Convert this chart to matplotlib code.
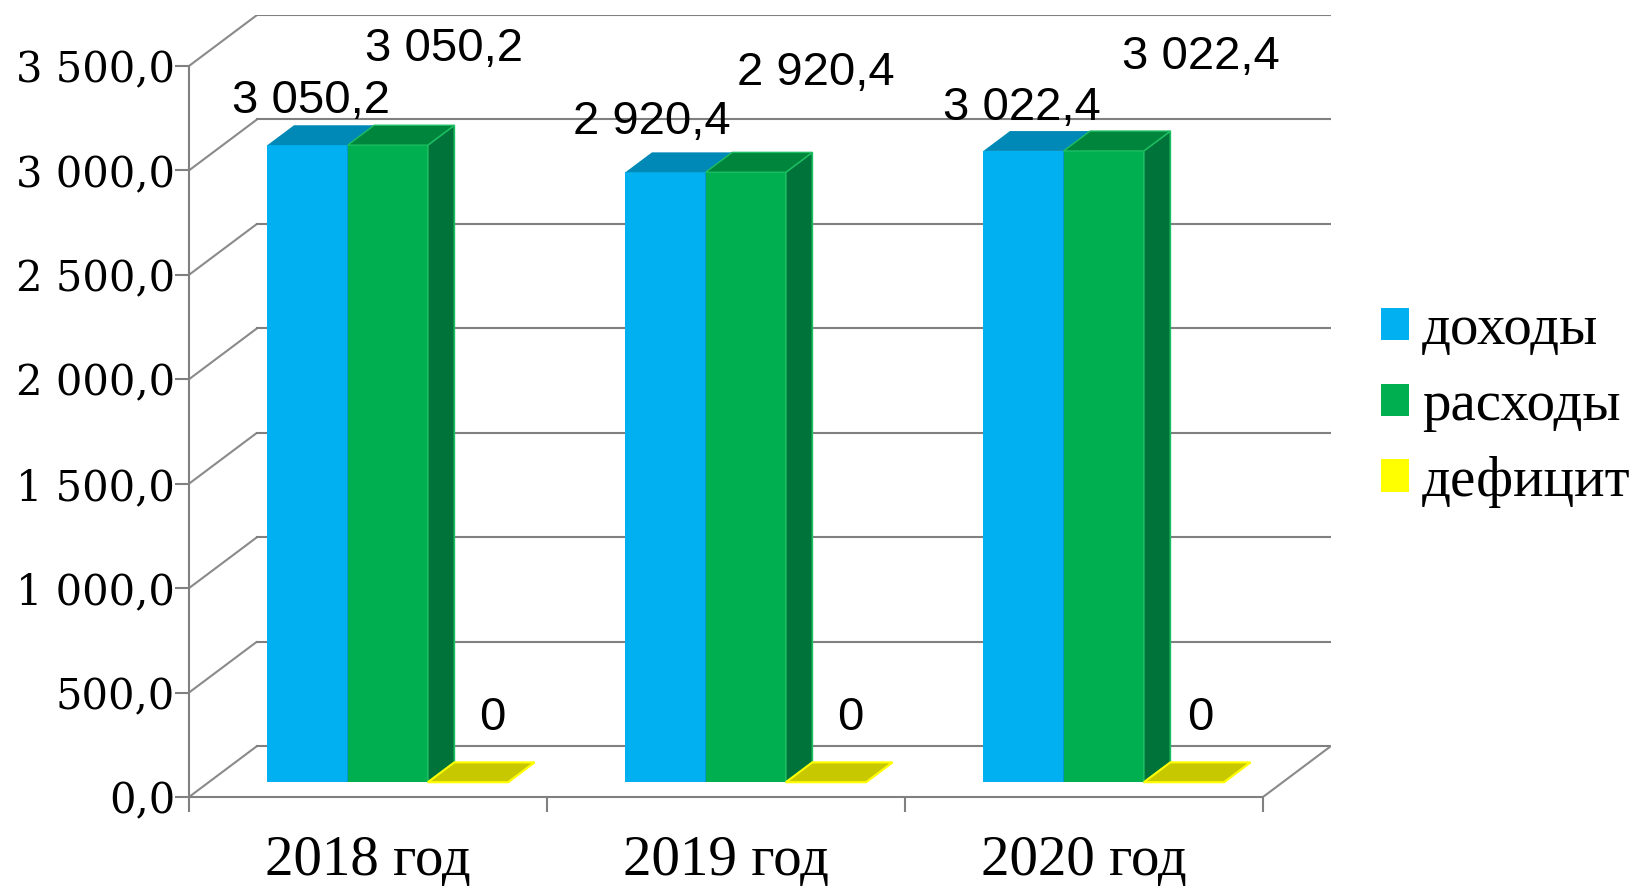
import matplotlib
matplotlib.use("Agg")
import matplotlib.pyplot as plt
from matplotlib.patches import Patch

# ---------------- data ----------------
categories = ["2018 год", "2019 год", "2020 год"]
series_names = ["доходы", "расходы", "дефицит"]
dohody = [3050.2, 2920.4, 3022.4]
rashody = [3050.2, 2920.4, 3022.4]
deficit = [0, 0, 0]
y_ticks = [0, 500, 1000, 1500, 2000, 2500, 3000, 3500]

# ---------------- style / layout ----------------
front_colors = ["#00B0F0", "#00B050", "#FFFF00"]
top_colors = ["#0088B6", "#00853D", "#C8C800"]
side_colors = ["#006E9A", "#00733A", "#A6A600"]
edge_colors = ["none", "#1DBE62", "#FFFF00"]
grid_color = "#808080"

# label offsets in pixels (dx, dy) from the top-front-centre of each bar
label_offsets = [
    [(3, 44), (-14, 50), (-2, 43)],
    [(56, 96), (70, 99), (97, 94)],
    [(24, 64), (24, 64), (16, 64)],
]

W_PX, H_PX = 1641, 888
DX, DY = 0.19, 244.0      # depth of the plot box (data units)
F0, FD = 0.29, 0.39       # bar front plane / bar depth as fraction of box depth
BW = 0.224                # bar width (category units)


def fmt_decimal(v):
    return f"{v:,.1f}".replace(",", " ").replace(".", ",")


def fmt_general(v):
    return f"{v:g}"


series = [dohody, rashody, deficit]
label_fmts = [fmt_decimal, fmt_decimal, fmt_general]

fig = plt.figure(figsize=(W_PX / 100, H_PX / 100), dpi=100)
ax = fig.add_axes([189 / W_PX, 91 / H_PX, (1331 - 189) / W_PX, (873 - 91) / H_PX])
ax.set_xlim(0, len(categories) + DX)
ax.set_ylim(0, y_ticks[-1] + DY)
ax.patch.set_alpha(0)

# spines / ticks
for s in ["top", "right"]:
    ax.spines[s].set_visible(False)
for s in ["left", "bottom"]:
    ax.spines[s].set_color(grid_color)
    ax.spines[s].set_linewidth(1.5)
ax.spines["left"].set_bounds(0, y_ticks[-1])
ax.spines["bottom"].set_bounds(0, len(categories))

ax.set_yticks(y_ticks, labels=[fmt_decimal(v) for v in y_ticks])
ax.tick_params(axis="y", length=10, width=1.5, color=grid_color, pad=0,
               labelsize=30, labelfontfamily="DejaVu Serif")
ax.set_xticks(range(len(categories) + 1), labels=[""] * (len(categories) + 1))
ax.set_xticks([i + 0.5 for i in range(len(categories))], labels=categories, minor=True)
ax.tick_params(axis="x", which="major", length=11, width=1.5, color=grid_color)
ax.tick_params(axis="x", which="minor", length=0, pad=27, labelsize=41,
               labelfontfamily="Liberation Serif")

# gridlines: side wall diagonals + back wall lines
for v in y_ticks:
    ax.plot([0, DX], [v, v + DY], color="#8a8a8a", lw=1.5, zorder=1, solid_capstyle="butt")
    ax.plot([DX, len(categories) + DX], [v + DY, v + DY], color=grid_color, lw=1.5, zorder=1)
# floor right edge
ax.plot([len(categories), len(categories) + DX], [0, DY], color="#8a8a8a", lw=1.5, zorder=1)

# bars
dx, dy = FD * DX, FD * DY
z = 2
for i in range(len(categories)):
    for j, vals in enumerate(series):
        v = vals[i]
        x0 = i + 0.5 - 1.5 * BW + j * BW + F0 * DX
        b = F0 * DY
        if v > 0:
            ax.bar(x0, v, width=BW, bottom=b, align="edge", color=front_colors[j],
                   linewidth=0, zorder=z)
        ax.fill([x0 + BW, x0 + BW + dx, x0 + BW + dx, x0 + BW],
                [b, b + dy, b + v + dy, b + v],
                color=side_colors[j], ec=edge_colors[j], lw=1.2, zorder=z + 0.1)
        ax.fill([x0, x0 + BW, x0 + BW + dx, x0 + dx],
                [b + v, b + v, b + v + dy, b + v + dy],
                color=top_colors[j], ec=edge_colors[j], lw=1.5 if v == 0 else 1.0,
                zorder=z + 0.2)
        ox, oy = label_offsets[j][i]
        ax.annotate(label_fmts[j](v), xy=(x0 + BW / 2, b + v), xytext=(ox, oy),
                    textcoords="offset pixels", ha="center", va="center",
                    fontsize=34, family="Liberation Sans", color="black", zorder=10,
                    annotation_clip=False)
        z += 1

# legend
handles = [Patch(facecolor=c, edgecolor="none") for c in front_colors]
fs = 41
fig.legend(handles, series_names, loc="center left",
           bbox_to_anchor=(1381 / W_PX, 1 - 406 / H_PX), frameon=False,
           borderpad=0, borderaxespad=0, handlelength=0.5, handleheight=0.5,
           handletextpad=0.22, labelspacing=0.42,
           prop={"family": "Liberation Serif", "size": fs})

fig.savefig("out.png", dpi=100)
